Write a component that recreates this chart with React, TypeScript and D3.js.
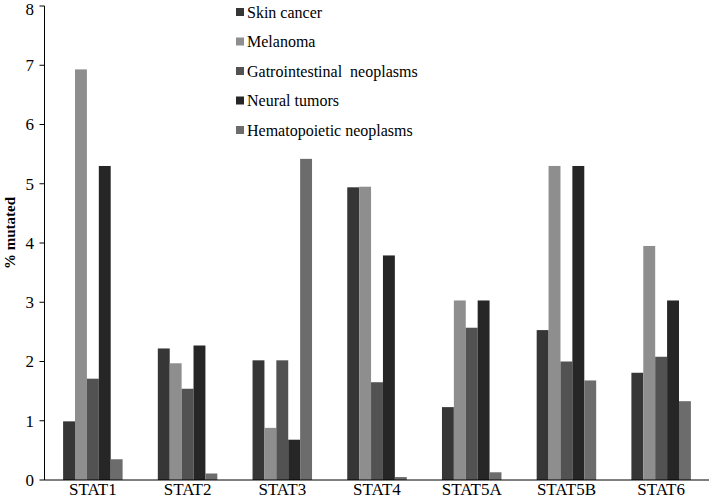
import React from "react";
import * as d3 from "d3";

const categories = ["STAT1", "STAT2", "STAT3", "STAT4", "STAT5A", "STAT5B", "STAT6"];
const seriesNames = [
  "Skin cancer",
  "Melanoma",
  "Gatrointestinal  neoplasms",
  "Neural tumors",
  "Hematopoietic neoplasms",
];
const skinCancer = [0.99, 2.22, 2.02, 4.94, 1.23, 2.53, 1.81];
const melanoma = [6.93, 1.97, 0.88, 4.95, 3.03, 5.3, 3.95];
const gastro = [1.71, 1.54, 2.02, 1.65, 2.57, 2.0, 2.08];
const neural = [5.3, 2.27, 0.68, 3.79, 3.03, 5.3, 3.03];
const hemato = [0.35, 0.11, 5.42, 0.05, 0.13, 1.68, 1.33];
const seriesValues = [skinCancer, melanoma, gastro, neural, hemato];
const colors = ["#363636", "#8e8e8e", "#525252", "#262626", "#6c6c6c"];
const yTicks = [0, 1, 2, 3, 4, 5, 6, 7, 8];

const W = 709;
const H = 500;
const FONT = "'Liberation Serif', 'Times New Roman', serif";

export default function App() {
  const x = d3.scaleBand<string>().domain(categories).range([45.5, 708.5]).padding(0);
  const groupW = 59.5;
  const x1 = d3
    .scaleBand<number>()
    .domain(d3.range(seriesNames.length))
    .range([0, groupW])
    .padding(0);
  const y = d3.scaleLinear().domain([0, 8]).range([480, 6]);
  const axisX = 44.5;

  return (
    <svg
      width={W}
      height={H}
      style={{ position: "absolute", left: 0, top: 0, background: "#fff" }}
      fontFamily={FONT}
    >
      {/* bars */}
      {categories.map((c, ci) => {
        const gx = (x(c) as number) + x.bandwidth() / 2 - groupW / 2;
        return (
          <g key={c} transform={`translate(${gx},0)`}>
            {seriesValues.map((vals, si) => (
              <rect
                key={si}
                x={x1(si) as number}
                y={y(vals[ci])}
                width={x1.bandwidth()}
                height={y(0) - y(vals[ci])}
                fill={colors[si]}
              />
            ))}
          </g>
        );
      })}

      {/* y axis */}
      <line x1={axisX} x2={axisX} y1={y(8)} y2={y(0)} stroke="#000" strokeWidth={1} />
      {yTicks.map((t) => (
        <g key={t}>
          <line x1={axisX - 5} x2={axisX} y1={y(t)} y2={y(t)} stroke="#000" strokeWidth={1} />
          <text
            x={34}
            y={Math.max(y(t), 9.5)}
            dy="0.35em"
            textAnchor="end"
            fontSize={17}
            fill="#000"
          >
            {t}
          </text>
        </g>
      ))}
      {/* x axis */}
      <line x1={axisX} x2={709} y1={y(0)} y2={y(0)} stroke="#000" strokeWidth={1} />
      {categories.map((c) => (
        <text
          key={c}
          x={(x(c) as number) + x.bandwidth() / 2}
          y={495}
          textAnchor="middle"
          fontSize={17}
          fill="#000"
        >
          {c}
        </text>
      ))}

      {/* y label */}
      <text
        transform={`translate(15,233) rotate(-90)`}
        textAnchor="middle"
        fontSize={15}
        fontWeight="bold"
        fill="#000"
      >
        % mutated
      </text>

      {/* legend */}
      {seriesNames.map((n, i) => {
        const ly = 12 + i * 29.5;
        return (
          <g key={n}>
            <rect x={236} y={ly - 4} width={8} height={8} fill={colors[i]} />
            <text x={247} y={ly} dy="0.35em" fontSize={16} fill="#000" style={{ whiteSpace: "pre" }}>
              {n}
            </text>
          </g>
        );
      })}
    </svg>
  );
}
